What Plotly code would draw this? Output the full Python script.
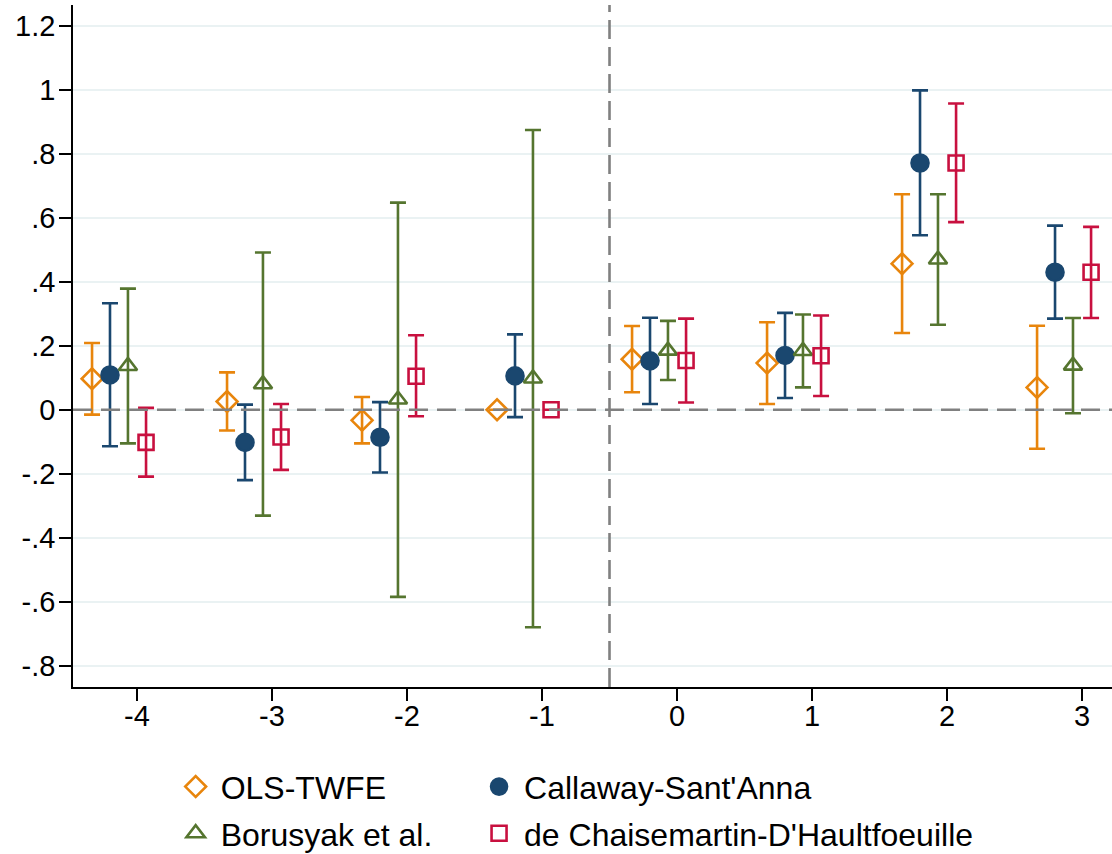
import plotly.graph_objects as go

# Event-study estimates by relative period
periods = [-4, -3, -2, -1, 0, 1, 2, 3]

ols_est = [0.097, 0.026, -0.033, 0.0, 0.158, 0.146, 0.457, 0.070]
ols_lo = [-0.015, -0.065, -0.105, 0.0, 0.055, 0.018, 0.240, -0.122]
ols_hi = [0.209, 0.117, 0.040, 0.0, 0.262, 0.274, 0.674, 0.263]

cs_est = [0.109, -0.102, -0.086, 0.106, 0.153, 0.170, 0.772, 0.430]
cs_lo = [-0.114, -0.220, -0.196, -0.023, 0.018, 0.037, 0.546, 0.285]
cs_hi = [0.333, 0.016, 0.024, 0.236, 0.288, 0.303, 0.999, 0.576]

bor_est = [0.137, 0.080, 0.032, 0.098, 0.185, 0.184, 0.470, 0.138]
bor_lo = [-0.105, -0.331, -0.585, -0.680, 0.093, 0.070, 0.266, -0.011]
bor_hi = [0.379, 0.492, 0.648, 0.875, 0.278, 0.298, 0.674, 0.287]

dcdh_est = [-0.102, -0.085, 0.105, 0.0, 0.154, 0.169, 0.772, 0.430]
dcdh_lo = [-0.209, -0.188, -0.020, 0.0, 0.023, 0.043, 0.587, 0.287]
dcdh_hi = [0.006, 0.018, 0.233, 0.0, 0.285, 0.295, 0.958, 0.572]

y_tickvals = [-0.8, -0.6, -0.4, -0.2, 0, 0.2, 0.4, 0.6, 0.8, 1.0, 1.2]
y_ticktext = ["-.8", "-.6", "-.4", "-.2", "0", ".2", ".4", ".6", ".8", "1", "1.2"]
x_ticktext = ["-4", "-3", "-2", "-1", "0", "1", "2", "3"]

FONT = "Liberation Sans, Arial, sans-serif"

series = [
    # name, est, lo, hi, color, symbol, size, offset, legend
    ("OLS-TWFE", ols_est, ols_lo, ols_hi, "#E8850C", "diamond-open", 16, -0.333, "legend"),
    ("Callaway-Sant'Anna", cs_est, cs_lo, cs_hi, "#1A476F", "circle", 17, -0.2, "legend2"),
    ("Borusyak et al.", bor_est, bor_lo, bor_hi, "#55752F", "triangle-up-open", 16, -0.067, "legend"),
    ("de Chaisemartin-D'Haultfoeuille", dcdh_est, dcdh_lo, dcdh_hi, "#C8103F", "square-open", 15, 0.067, "legend2"),
]

fig = go.Figure()
for name, est, lo, hi, color, symbol, size, off, leg in series:
    fig.add_trace(go.Scatter(
        x=[p + off for p in periods],
        y=est,
        mode="markers",
        name=name,
        legend=leg,
        legendgroup=name,
        marker=dict(symbol=symbol, size=size, color=color,
                    line=dict(color=color, width=2.6)),
        error_y=dict(type="data", symmetric=False,
                     array=[h - e for h, e in zip(hi, est)],
                     arrayminus=[e - l for e, l in zip(est, lo)],
                     color=color, thickness=2.6, width=8),
    ))

# reference lines: zero effect and treatment onset
fig.add_shape(type="line", xref="paper", yref="y", x0=0, x1=1, y0=0, y1=0,
              line=dict(color="#808080", width=2.6, dash="19px,9px"), layer="above")
fig.add_shape(type="line", xref="x", yref="paper", x0=-0.5, x1=-0.5, y0=0, y1=1,
              line=dict(color="#808080", width=2.6, dash="19px,8px"), layer="above")

legend_style = dict(yanchor="top", xanchor="left", orientation="v",
                    font=dict(size=32), bgcolor="rgba(0,0,0,0)",
                    itemwidth=40, tracegroupgap=2)

fig.update_layout(
    width=1112, height=854,
    margin=dict(l=73, r=0, t=5, b=167, autoexpand=False),
    paper_bgcolor="white", plot_bgcolor="white",
    font=dict(family=FONT, size=30, color="black"),
    showlegend=True,
    legend=dict(x=0.094, y=-0.106, **legend_style),
    legend2=dict(x=0.386, y=-0.106, **legend_style),
    xaxis=dict(range=[-4.474, 3.222], tickmode="array", tickvals=periods,
               ticktext=x_ticktext, showgrid=False, zeroline=False,
               showline=True, linecolor="black", linewidth=1.5,
               ticks="outside", ticklen=12, tickwidth=1.5, tickcolor="black",
               tickfont=dict(size=29), ticklabelstandoff=-10),
    yaxis=dict(range=[-0.867, 1.266], tickmode="array", tickvals=y_tickvals,
               ticktext=y_ticktext, showgrid=True, gridcolor="#EAF2F3",
               gridwidth=2, zeroline=False,
               showline=True, linecolor="black", linewidth=1.5,
               ticks="outside", ticklen=12, tickwidth=1.5, tickcolor="black",
               tickfont=dict(size=29), ticklabelstandoff=-2),
)

fig.write_html("out.html")
